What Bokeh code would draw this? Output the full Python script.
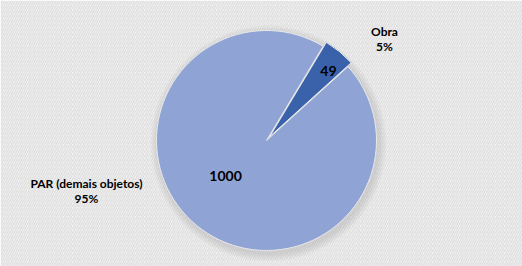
import math
from bokeh.plotting import figure
from bokeh.models import Range1d, ColumnDataSource
from bokeh.core.properties import value
from bokeh.embed import file_html
from bokeh.resources import INLINE

# ---- data ----
categories = ["Obra", "PAR (demais objetos)"]
values = [49, 1000]
colors = ["#3A62AB", "#8FA3D4"]

W, H = 522, 266
total = sum(values)
percents = [f"{round(v / total * 100)}%" for v in values]

p = figure(width=W, height=H, output_backend="svg", toolbar_location=None,
           x_range=Range1d(0, W), y_range=Range1d(0, H), min_border=0)
p.axis.visible = False
p.grid.visible = False
p.outline_line_color = None
p.background_fill_color = "#ffffff"
p.border_fill_color = "#ffffff"

# striped background
p.quad(left=[0], right=[W], bottom=[0], top=[H], fill_color="#f6f6f6", line_color=None,
       hatch_pattern="/", hatch_color="#dadada", hatch_scale=4.5, hatch_weight=1.2)

cx, cy, R = 266, 126, 110
rotation = 31.0  # first slice start, degrees clockwise from 12 o'clock
explode = [5, 0]

# soft shadow
for i in range(8):
    p.circle(x=[cx + 2], y=[cy - 3], radius=R + 8 - i, fill_color="#808080",
             fill_alpha=0.035, line_color=None)

starts, ends, xs, ys = [], [], [], []
acc = rotation
mids = []
for v, e in zip(values, explode):
    span = v / total * 360
    a0, a1 = acc, acc + span
    mid = (a0 + a1) / 2
    mids.append(mid)
    # convert clockwise-from-north to math angles
    starts.append(math.radians(90 - a1))
    ends.append(math.radians(90 - a0))
    xs.append(cx + e * math.sin(math.radians(mid)))
    ys.append(cy + e * math.cos(math.radians(mid)))
    acc = a1

src = ColumnDataSource(dict(x=xs, y=ys, start=starts, end=ends, color=colors))
p.wedge(x="x", y="y", radius=R, start_angle="start", end_angle="end",
        fill_color="color", line_color="#e8e8e8", line_width=1, source=src)

font = value("Lato")
# inside value labels (polar position: angle offset deg, radius fraction)
inner_pos = [(2.5, 0.80), (10.0, 0.49)]
for i, v in enumerate(values):
    ang = math.radians(mids[i] + inner_pos[i][0])
    r = R * inner_pos[i][1]
    p.text(x=[xs[i] + r * math.sin(ang)], y=[ys[i] + r * math.cos(ang)], text=[str(v)],
           text_font=font, text_font_style="bold", text_font_size="14px",
           text_align="center", text_baseline="middle", text_color="#000000")

# outside category labels (offsets from pie centre)
outer_off = [(118, 102), (-180, -50)]
for i, c in enumerate(categories):
    lx, ly = cx + outer_off[i][0], cy + outer_off[i][1]
    p.text(x=[lx], y=[ly + 7], text=[c], text_font=font, text_font_style="bold",
           text_font_size="12px", text_align="center", text_baseline="middle",
           text_color="#000000")
    p.text(x=[lx], y=[ly - 8], text=[percents[i]], text_font=font, text_font_style="bold",
           text_font_size="12px", text_align="center", text_baseline="middle",
           text_color="#000000")

open("out.html", "w").write(file_html(p, INLINE))
